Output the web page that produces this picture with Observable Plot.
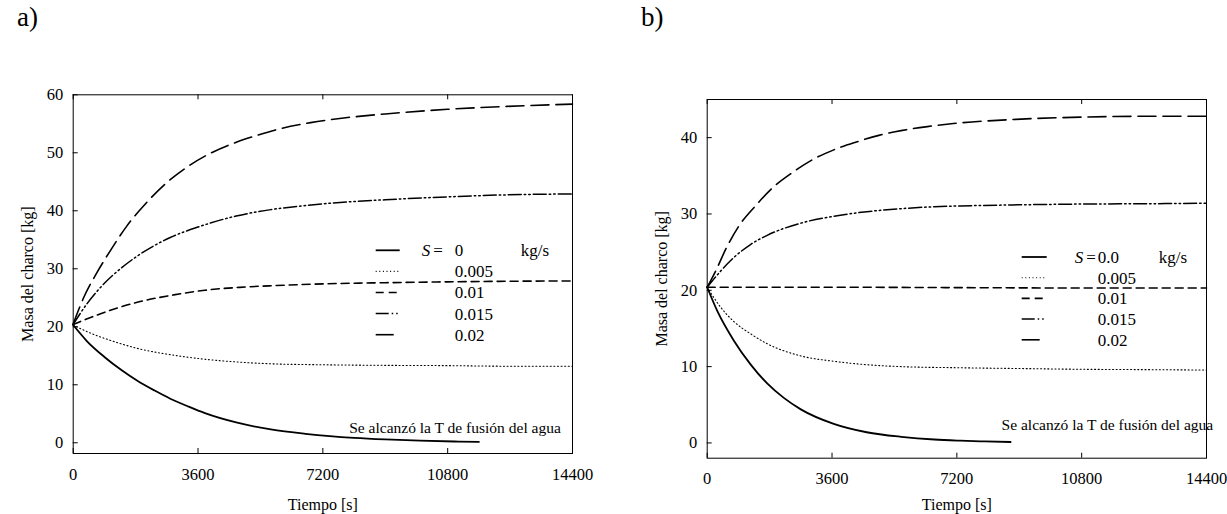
<!DOCTYPE html>
<html>
<head>
<meta charset="utf-8">
<script src="https://cdn.jsdelivr.net/npm/d3@7"></script>
<script src="https://cdn.jsdelivr.net/npm/@observablehq/plot@0.6"></script>
<style>
html, body { margin: 0; padding: 0; background: #fff; }
#wrap { position: relative; width: 1227px; height: 514px; overflow: hidden; font-family: "Liberation Serif", "Times New Roman", serif; color: #000; }
.panel { position: absolute; top: 0; height: 514px; }
.tag { position: absolute; top: 4px; font-size: 27px; line-height: 1; z-index: 2; }
svg text { font-family: "Liberation Serif", "Times New Roman", serif; }
</style>
</head>
<body>
<div id="wrap">
  <div class="panel" id="pa" style="left:0px;width:614px"></div>
  <div class="panel" id="pb" style="left:614px;width:613px"></div>
  <div class="tag" style="left:17px">a)</div>
  <div class="tag" style="left:641px">b)</div>
</div>
<script>
// ---------- shared ----------
const xTicks = [0, 3600, 7200, 10800, 14400];
const yTicksA = [0, 10, 20, 30, 40, 50, 60];
const yTicksB = [0, 10, 20, 30, 40];
const sValues = [0, 0.005, 0.01, 0.015, 0.02];
const legendA = ["0", "0.005", "0.01", "0.015", "0.02"];
const legendB = ["0.0", "0.005", "0.01", "0.015", "0.02"];
const unitLabel = "kg/s";
const xLabel = "Tiempo [s]";
const yLabel = "Masa del charco [kg]";
const note = "Se alcanzó la T de fusión del agua";

// ---------- panel a ----------
const aT0 = [0, 400, 900, 1400, 1850, 2350, 2800, 3300, 3800, 4700, 5700, 6700, 7400, 8100, 9000, 10000, 11000, 11700];
const aM0 = [20.3, 17.5, 14.8, 12.5, 10.7, 9.0, 7.6, 6.3, 5.1, 3.5, 2.3, 1.55, 1.15, 0.85, 0.58, 0.37, 0.22, 0.15];
const aT1 = [0, 500, 1000, 1900, 2900, 3800, 4800, 5800, 7200, 9000, 10800, 12600, 14400];
const aM1 = [20.3, 18.9, 17.8, 16.2, 15.1, 14.4, 13.9, 13.6, 13.45, 13.35, 13.3, 13.2, 13.2];
const aT2 = [0, 500, 1000, 1900, 2900, 3800, 4800, 5800, 7200, 9000, 10800, 12600, 14400];
const aM2 = [20.4, 21.6, 22.7, 24.3, 25.5, 26.3, 26.8, 27.1, 27.4, 27.6, 27.75, 27.85, 27.9];
const aT3 = [0, 400, 900, 1400, 1850, 2800, 3600, 4700, 5700, 6700, 7400, 9000, 10800, 12500, 14400];
const aM3 = [20.4, 24.0, 27.5, 30.2, 32.2, 35.4, 37.2, 39.1, 40.2, 40.9, 41.3, 41.9, 42.4, 42.75, 42.9];
const aT4 = [0, 300, 700, 1100, 1550, 2100, 2650, 3300, 3950, 4650, 5300, 6000, 6850, 7800, 9000, 10800, 12500, 14400];
const aM4 = [20.5, 25.0, 29.5, 33.4, 37.4, 41.3, 44.6, 47.6, 49.9, 51.7, 53.0, 54.2, 55.2, 56.0, 56.7, 57.5, 58.0, 58.4];

// ---------- panel b ----------
const bT0 = [0, 290, 770, 1250, 1730, 2210, 2700, 3650, 4600, 5600, 6550, 7300, 8000, 8750];
const bM0 = [20.4, 17.3, 13.4, 10.3, 7.8, 5.9, 4.4, 2.5, 1.4, 0.8, 0.45, 0.3, 0.2, 0.12];
const bT1 = [0, 385, 770, 1250, 1730, 2700, 3650, 4600, 5600, 7300, 9000, 10800, 12800, 14400];
const bM1 = [20.4, 17.8, 15.9, 14.3, 13.0, 11.4, 10.7, 10.25, 10.0, 9.85, 9.75, 9.65, 9.6, 9.55];
const bT2 = [0, 3600, 7200, 10800, 14400];
const bM2 = [20.4, 20.4, 20.35, 20.3, 20.3];
const bT3 = [0, 385, 770, 1250, 1730, 2700, 3650, 4600, 5600, 6550, 7300, 9000, 10800, 12800, 14400];
const bM3 = [20.4, 22.5, 24.3, 26.0, 27.2, 28.8, 29.7, 30.3, 30.7, 30.95, 31.05, 31.2, 31.3, 31.35, 31.4];
const bT4 = [0, 240, 580, 910, 1400, 1880, 2450, 3030, 3650, 4280, 4950, 5630, 6350, 7100, 8900, 10900, 12800, 14400];
const bM4 = [20.4, 22.5, 25.8, 28.4, 31.1, 33.4, 35.4, 37.1, 38.4, 39.4, 40.3, 40.95, 41.45, 41.85, 42.4, 42.7, 42.8, 42.8];

// ---------- styles ----------
const styles = [
  {dash: undefined, w: 1.8},
  {dash: "1,2.6", w: 1.1},
  {dash: "8,5", w: 1.6},
  {dash: "13,3,1.5,3,1.5,3", w: 1.5},
  {dash: "18,7", w: 1.6}
];

function makePanel(cfg) {
  const H = 514;
  const {width, mL, mR, mT, mB, yDomain, yTicks, times, masses, labels, leg, noteDx, noteDy, noteAnchor, xLabelDy} = cfg;
  const fw = width - mL - mR, fh = H - mT - mB;
  const rows = [];
  sValues.forEach((S, i) => times[i].forEach((t, j) => rows.push({S, t, m: masses[i][j]})));
  const marks = [];
  sValues.forEach((S, i) => marks.push(Plot.line(rows.filter(d => d.S === S), {
    x: "t", y: "m", stroke: "black", strokeWidth: styles[i].w,
    strokeDasharray: styles[i].dash, curve: "monotone-x"
  })));
  marks.push(
    Plot.tickX(xTicks, {x: d => d, insetTop: fh - 5, stroke: "black"}),
    Plot.tickX(xTicks, {x: d => d, insetBottom: fh - 5, stroke: "black"}),
    Plot.tickY(yTicks, {y: d => d, insetRight: fw - 5, stroke: "black"}),
    Plot.axisX({ticks: xTicks, tickSize: 0, tickPadding: 14.5, label: null, tickFormat: d => String(d), fontSize: 16.5}),
    Plot.axisY({ticks: yTicks, tickSize: 0, tickPadding: 10, label: null, tickFormat: d => String(d), fontSize: 16.5}),
    Plot.text([xLabel], {frameAnchor: "bottom", dy: xLabelDy, text: d => d, textAnchor: "middle", lineAnchor: "middle", fontSize: 16}),
    Plot.text([yLabel], {frameAnchor: "left", dx: -45, rotate: -90, text: d => d, textAnchor: "middle", lineAnchor: "middle", fontSize: 16}),
    Plot.text([note], {frameAnchor: "top-left", dx: noteDx, dy: noteDy, textAnchor: noteAnchor, lineAnchor: "middle", text: d => d, fontSize: 15.5}),
    Plot.frame({stroke: "black", strokeWidth: 1})
  );
  const svg = Plot.plot({
    width, height: H,
    marginLeft: mL, marginRight: mR, marginTop: mT, marginBottom: mB,
    x: {domain: [0, 14400]},
    y: {domain: yDomain},
    style: 'font-family: "Liberation Serif", "Times New Roman", serif; font-size: 16px; color: black; background: transparent;',
    marks
  });
  // legend
  const g = d3.select(svg).append("g")
    .attr("transform", `translate(${mL},${mT})`)
    .attr("font-size", "17px")
    .attr("font-family", '"Liberation Serif", "Times New Roman", serif')
    .attr("text-anchor", "start")
    .attr("fill", "black");
  sValues.forEach((S, i) => {
    const y = leg.y0 + leg.dy * i;
    const ln = g.append("line")
      .attr("x1", leg.x1).attr("x2", leg.x2).attr("y1", y).attr("y2", y)
      .attr("stroke", "black").attr("stroke-width", styles[i].w);
    if (styles[i].dash) ln.attr("stroke-dasharray", styles[i].dash);
    g.append("text").attr("x", leg.vx).attr("y", y).attr("dy", "0.35em").text(labels[i]);
  });
  const t0 = g.append("text").attr("x", leg.sx).attr("y", leg.y0).attr("dy", "0.35em");
  t0.append("tspan").attr("font-style", "italic").text("S");
  t0.append("tspan").attr("dx", 3).text("=");
  g.append("text").attr("x", leg.ux).attr("y", leg.y0).attr("dy", "0.35em").text(unitLabel);
  return svg;
}

document.getElementById("pa").appendChild(makePanel({
  width: 614, mL: 72.7, mR: 42, mT: 94.3, mB: 61,
  yDomain: [-1.85, 60], yTicks: yTicksA,
  times: [aT0, aT1, aT2, aT3, aT4], masses: [aM0, aM1, aM2, aM3, aM4],
  labels: legendA,
  leg: {x1: 303, x2: 327, sx: 349, vx: 382, ux: 448, y0: 156, dy: 21.1},
  noteDx: 276, noteDy: 333, noteAnchor: "start", xLabelDy: 51
}));

document.getElementById("pb").appendChild(makePanel({
  width: 613, mL: 92.7, mR: 21, mT: 99, mB: 56.3,
  yDomain: [-2, 45], yTicks: yTicksB,
  times: [bT0, bT1, bT2, bT3, bT4], masses: [bM0, bM1, bM2, bM3, bM4],
  labels: legendB,
  leg: {x1: 315, x2: 340, sx: 368, vx: 391, ux: 452, y0: 158, dy: 20.7},
  noteDx: 506, noteDy: 326, noteAnchor: "end", xLabelDy: 47
}));
</script>
</body>
</html>
